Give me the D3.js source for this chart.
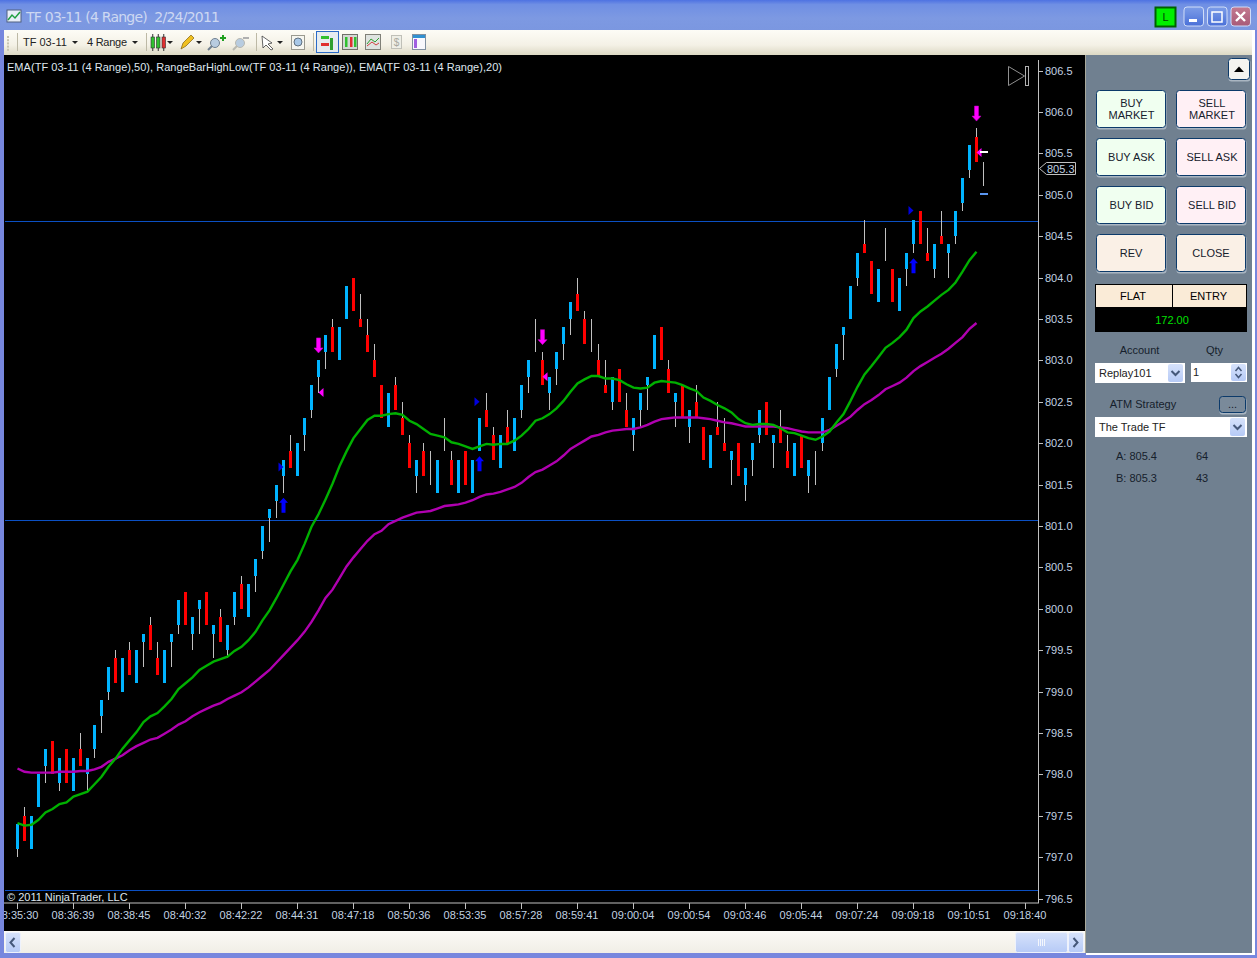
<!DOCTYPE html>
<html>
<head>
<meta charset="utf-8">
<title>TF 03-11 (4 Range)</title>
<script src="https://cdn.jsdelivr.net/npm/d3@7"></script>
<style>
  html, body { margin: 0; padding: 0; background: #fff; }
  svg { display: block; font-family: "Liberation Sans", Arial, sans-serif; }
</style>
</head>
<body>
<script>
/* globals d3 */
const priceTicks = ['796.5', '797.0', '797.5', '798.0', '798.5', '799.0', '799.5', '800.0', '800.5', '801.0', '801.5',
  '802.0', '802.5', '803.0', '803.5', '804.0', '804.5', '805.0', '805.5', '806.0', '806.5'];
const timeLabels = ['08:35:30', '08:36:39', '08:38:45', '08:40:32', '08:42:22', '08:44:31', '08:47:18', '08:50:36',
  '08:53:35', '08:57:28', '08:59:41', '09:00:04', '09:00:54', '09:03:46', '09:05:44', '09:07:24', '09:09:18',
  '09:10:51', '09:18:40'];

const opens = [797.1, 797.5, 797.1, 797.6, 798.1, 798.4, 797.9, 798.3, 797.8, 798.3,
  798.0, 798.3, 798.7, 799.0, 799.4, 799.0, 799.5, 799.1, 799.6, 799.8,
  799.4, 799.1, 799.6, 799.8, 800.2, 799.7, 800.0, 800.2, 799.7, 799.9,
  799.5, 799.9, 800.3, 799.9, 800.4, 800.7, 801.1, 801.3, 801.6, 801.9,
  801.6, 802.1, 802.4, 802.8, 803.1, 803.4, 803.0, 803.5, 804.0, 803.5,
  803.3, 803.0, 802.7, 802.2, 802.7, 802.3, 802.0, 801.6, 801.9, 801.7,
  801.4, 802.1, 801.8, 801.4, 801.9, 801.4, 801.9, 802.4, 802.1, 801.7,
  802.2, 801.9, 802.4, 802.8, 803.3, 803.0, 802.6, 802.9, 803.2, 803.5,
  803.8, 803.5, 803.3, 803.0, 802.7, 802.5, 802.9, 802.4, 802.1, 802.4,
  802.7, 802.9, 803.4, 802.9, 802.5, 802.7, 802.2, 802.5, 802.2, 801.7,
  802.2, 802.0, 801.8, 802.0, 801.5, 801.8, 802.1, 802.5, 802.0, 802.2,
  801.9, 801.6, 802.1, 801.6, 801.7, 802.0, 802.4, 802.9, 803.3, 803.5,
  804.0, 804.4, 804.2, 803.7, 804.4, 804.1, 803.6, 804.1, 804.4, 804.8,
  804.3, 804.1, 804.5, 804.3, 804.5, 804.9, 805.3, 805.7, 805.3];
const closes = [797.4, 797.2, 797.5, 798.0, 798.3, 798.0, 798.2, 797.9, 798.2, 798.1,
  798.2, 798.6, 798.9, 799.3, 799.1, 799.4, 799.2, 799.5, 799.7, 799.5,
  799.2, 799.5, 799.7, 800.1, 799.8, 799.9, 800.1, 799.8, 799.8, 799.6,
  799.8, 800.2, 800.0, 800.3, 800.6, 801.0, 801.2, 801.5, 801.8, 801.7,
  802.0, 802.3, 802.7, 803.0, 803.3, 803.1, 803.4, 803.9, 803.6, 803.4,
  803.1, 802.8, 802.3, 802.6, 802.4, 802.1, 801.7, 801.8, 801.6, 801.7,
  801.8, 802.1, 801.5, 801.8, 801.5, 801.8, 802.3, 802.2, 801.8, 802.1,
  802.0, 802.3, 802.7, 803.0, 803.3, 802.7, 802.8, 803.1, 803.4, 803.7,
  803.6, 803.2, 803.3, 802.8, 802.6, 802.8, 802.5, 802.2, 802.3, 802.6,
  802.8, 803.3, 803.0, 802.6, 802.6, 802.3, 802.4, 802.3, 801.8, 802.1,
  802.1, 801.9, 801.9, 801.6, 801.7, 802.0, 802.4, 802.1, 802.1, 802.0,
  801.7, 802.0, 801.7, 801.8, 801.7, 802.3, 802.8, 803.2, 803.4, 803.9,
  804.3, 804.3, 803.8, 804.1, 804.4, 803.7, 804.0, 804.3, 804.7, 804.4,
  804.2, 804.4, 804.4, 804.4, 804.8, 805.2, 805.6, 805.4, 805.3];
const highs = [797.4, 797.6, 797.5, 798.0, 798.3, 798.4, 798.2, 798.3, 798.2, 798.5,
  798.2, 798.6, 798.9, 799.3, 799.5, 799.4, 799.6, 799.5, 799.7, 799.9,
  799.6, 799.5, 799.7, 800.1, 800.2, 799.9, 800.1, 800.2, 799.8, 800.0,
  799.8, 800.2, 800.4, 800.3, 800.6, 801.0, 801.2, 801.5, 801.8, 802.1,
  802.0, 802.3, 802.7, 803.0, 803.3, 803.5, 803.4, 803.9, 804.0, 803.8,
  803.5, 803.2, 802.7, 802.6, 802.8, 802.5, 802.1, 801.8, 802.0, 801.9,
  801.8, 802.3, 801.9, 801.8, 801.9, 801.8, 802.3, 802.6, 802.2, 802.1,
  802.4, 802.3, 802.7, 803.0, 803.5, 803.1, 802.8, 803.1, 803.4, 803.7,
  804.0, 803.6, 803.5, 803.2, 803.0, 802.8, 802.9, 802.6, 802.3, 802.6,
  802.8, 803.3, 803.4, 803.0, 802.6, 802.7, 802.4, 802.7, 802.2, 802.1,
  802.5, 802.3, 801.9, 802.0, 801.7, 802.0, 802.4, 802.5, 802.1, 802.4,
  802.1, 802.0, 802.1, 801.8, 801.9, 802.3, 802.8, 803.2, 803.4, 803.9,
  804.3, 804.7, 804.2, 804.1, 804.6, 804.1, 804.0, 804.3, 804.7, 804.8,
  804.6, 804.4, 804.8, 804.4, 804.8, 805.2, 805.6, 805.8, 805.4];
const lows = [797.0, 797.2, 797.1, 797.6, 797.9, 798.0, 797.8, 797.9, 797.8, 798.1,
  797.8, 798.2, 798.5, 798.9, 799.1, 799.0, 799.2, 799.1, 799.3, 799.5,
  799.2, 799.1, 799.3, 799.7, 799.8, 799.5, 799.7, 799.8, 799.4, 799.6,
  799.4, 799.8, 800.0, 799.9, 800.2, 800.6, 800.8, 801.1, 801.4, 801.7,
  801.6, 801.9, 802.3, 802.6, 802.9, 803.1, 803.0, 803.5, 803.6, 803.4,
  803.1, 802.8, 802.3, 802.2, 802.4, 802.1, 801.7, 801.4, 801.6, 801.5,
  801.4, 801.9, 801.5, 801.4, 801.5, 801.4, 801.9, 802.2, 801.8, 801.7,
  802.0, 801.9, 802.3, 802.6, 803.1, 802.7, 802.4, 802.7, 803.0, 803.3,
  803.6, 803.2, 803.1, 802.8, 802.6, 802.4, 802.5, 802.2, 801.9, 802.2,
  802.4, 802.9, 803.0, 802.6, 802.2, 802.3, 802.0, 802.3, 801.8, 801.7,
  802.1, 801.9, 801.5, 801.6, 801.3, 801.6, 802.0, 802.1, 801.7, 802.0,
  801.7, 801.6, 801.7, 801.4, 801.5, 801.9, 802.4, 802.8, 803.0, 803.5,
  803.9, 804.3, 803.8, 803.7, 804.2, 803.7, 803.6, 803.9, 804.3, 804.4,
  804.2, 804.0, 804.4, 804.0, 804.4, 804.8, 805.2, 805.4, 805.1];

const ema20 = [797.41, 797.38, 797.39, 797.45, 797.54, 797.58, 797.64, 797.66, 797.73, 797.76,
  797.79, 797.88, 797.97, 798.09, 798.19, 798.31, 798.41, 798.51, 798.63, 798.70,
  798.74, 798.82, 798.91, 799.03, 799.10, 799.17, 799.26, 799.31, 799.36, 799.39,
  799.42, 799.49, 799.54, 799.62, 799.72, 799.86, 799.98, 800.13, 800.29, 800.45,
  800.59, 800.78, 800.99, 801.14, 801.32, 801.51, 801.72, 801.90, 802.06, 802.17,
  802.28, 802.33, 802.33, 802.35, 802.36, 802.34, 802.27, 802.23, 802.17, 802.11,
  802.09, 802.07, 802.01, 801.99, 801.96, 801.93, 801.96, 801.99, 801.98, 801.99,
  801.99, 802.03, 802.09, 802.17, 802.27, 802.30, 802.35, 802.42, 802.51, 802.62,
  802.72, 802.77, 802.81, 802.81, 802.78, 802.78, 802.76, 802.71, 802.67, 802.66,
  802.67, 802.73, 802.75, 802.74, 802.73, 802.70, 802.66, 802.63, 802.55, 802.51,
  802.46, 802.42, 802.37, 802.29, 802.24, 802.22, 802.23, 802.23, 802.22, 802.18,
  802.13, 802.12, 802.09, 802.06, 802.04, 802.08, 802.14, 802.25, 802.35, 802.51,
  802.68, 802.83, 802.93, 803.04, 803.15, 803.21, 803.28, 803.37, 803.51, 803.59,
  803.65, 803.72, 803.79, 803.85, 803.94, 804.07, 804.21, 804.31];
const ema50 = [798.07, 798.03, 798.02, 798.02, 798.02, 798.02, 798.03, 798.03, 798.03, 798.04,
  798.04, 798.06, 798.09, 798.15, 798.19, 798.23, 798.29, 798.34, 798.38, 798.42,
  798.44, 798.49, 798.54, 798.60, 798.64, 798.70, 798.75, 798.79, 798.83, 798.86,
  798.91, 798.95, 798.99, 799.05, 799.12, 799.19, 799.26, 799.35, 799.44, 799.53,
  799.62, 799.72, 799.84, 799.98, 800.13, 800.23, 800.37, 800.51, 800.62, 800.72,
  800.82, 800.90, 800.94, 801.02, 801.06, 801.10, 801.13, 801.16, 801.17, 801.18,
  801.21, 801.24, 801.25, 801.26, 801.28, 801.31, 801.35, 801.38, 801.39, 801.41,
  801.44, 801.47, 801.52, 801.59, 801.65, 801.68, 801.73, 801.78, 801.85, 801.93,
  801.98, 802.03, 802.08, 802.10, 802.13, 802.15, 802.16, 802.17, 802.17, 802.19,
  802.22, 802.26, 802.29, 802.30, 802.31, 802.31, 802.31, 802.31, 802.30, 802.29,
  802.27, 802.25, 802.24, 802.22, 802.20, 802.20, 802.20, 802.20, 802.20, 802.19,
  802.18, 802.16, 802.14, 802.13, 802.13, 802.13, 802.16, 802.21, 802.26, 802.32,
  802.40, 802.47, 802.52, 802.58, 802.65, 802.69, 802.73, 802.79, 802.87, 802.93,
  802.98, 803.03, 803.08, 803.14, 803.21, 803.28, 803.38, 803.45];

const priceLines = [804.68, 801.07, 796.6];

// signal markers: bar index + price
const buyArrowBars = [38, 66, 128];
const buyArrowPrices = [801.16, 801.66, 804.05];
const sellArrowBars = [43, 75, 137];
const sellArrowPrices = [803.27, 803.37, 806.07];
const buyFlagPrices = [801.71, 802.50, 804.81];
const sellFlagPrices = [802.61, 802.80, 805.51];
const rangeHighPrice = 805.5;
const rangeLowPrice = 805.0;
const lastPrice = 805.3;

const buyLabels = [['BUY', 'MARKET'], ['BUY ASK'], ['BUY BID']];
const sellLabels = [['SELL', 'MARKET'], ['SELL ASK'], ['SELL BID']];

const W = 1257;
const H = 958;
const svg = d3.select('body').append('svg').attr('width', W).attr('height', H);
const defs = svg.append('defs');

function gradient (id, stops) {
  const g = defs.append('linearGradient').attr('id', id)
    .attr('x1', 0).attr('y1', 0).attr('x2', 0).attr('y2', 1);
  stops.forEach(s => g.append('stop').attr('offset', s[0]).attr('stop-color', s[1]));
}
gradient('titleGrad', [[0, '#4e72e2'], [0.15, '#6f8fe4'], [0.6, '#7d99e2'], [1, '#7b97e0']]);
gradient('toolGrad', [[0, '#fdfcf6'], [0.6, '#f4f1e6'], [1, '#ddd9c4']]);
gradient('scrollGrad', [[0, '#fbfaf6'], [1, '#f0eee6']]);
gradient('btnBlue', [[0, '#d6e2fb'], [1, '#b6caf6']]);
gradient('winBlue', [[0, '#7d9de8'], [1, '#4a70d8']]);
gradient('winRed', [[0, '#c47a90'], [1, '#a85a78']]);

// window frame
svg.append('rect').attr('width', W).attr('height', H).attr('fill', '#7787de');
svg.append('rect').attr('width', W).attr('height', 30).attr('fill', 'url(#titleGrad)');
svg.append('rect').attr('x', 4).attr('y', 30).attr('width', W - 8).attr('height', 25).attr('fill', 'url(#toolGrad)');
svg.append('rect').attr('x', 4).attr('y', 55).attr('width', 1082).attr('height', 876).attr('fill', '#000');

// --- chart ---
const x = d3.scaleLinear().domain([0, 1]).range([17.5, 24.5]);
const y = d3.scaleLinear().domain([796.5, 806.5]).range([898.5, 70.5]);
const chart = svg.append('g');
const py = v => Math.round(y(v));

chart.selectAll('line.level').data(priceLines).join('line')
  .attr('class', 'level')
  .attr('x1', 5).attr('x2', 1038)
  .attr('y1', d => py(d) + 0.5).attr('y2', d => py(d) + 0.5)
  .attr('stroke', '#0b50c4').attr('stroke-width', 1);

const bars = chart.selectAll('g.bar').data(opens.map((o, i) => i)).join('g').attr('class', 'bar');
bars.append('rect')
  .attr('x', i => x(i) - 0.5).attr('width', 1)
  .attr('y', i => py(highs[i]))
  .attr('height', i => Math.max(1, py(lows[i]) - py(highs[i])))
  .attr('fill', '#c0c0c0');
bars.filter(i => opens[i] !== closes[i]).append('rect')
  .attr('x', i => x(i) - 1.5).attr('width', 3)
  .attr('y', i => py(Math.max(opens[i], closes[i])))
  .attr('height', i => py(Math.min(opens[i], closes[i])) - py(Math.max(opens[i], closes[i])))
  .attr('fill', i => closes[i] > opens[i] ? '#00b4ff' : '#ff0000');

const line = d3.line().x((d, i) => x(i)).y(d => y(d));
chart.append('path').attr('d', line(ema50)).attr('fill', 'none')
  .attr('stroke', '#b000b0').attr('stroke-width', 2.4);
chart.append('path').attr('d', line(ema20)).attr('fill', 'none')
  .attr('stroke', '#00b000').attr('stroke-width', 2.4);

// signal arrows
const arrowShape = 'M-2,0 L-2,-10 L-4.5,-10 L0,-15 L4.5,-10 L2,-10 L2,0 Z';
chart.selectAll('path.buy').data(buyArrowBars).join('path')
  .attr('class', 'buy').attr('d', arrowShape).attr('fill', '#0000ff')
  .attr('transform', (d, i) => `translate(${x(d)},${y(buyArrowPrices[i])})`);
chart.selectAll('path.sell').data(sellArrowBars).join('path')
  .attr('class', 'sell').attr('d', arrowShape).attr('fill', '#ff00ff').attr('stroke', '#c000c0').attr('stroke-width', 0.6)
  .attr('transform', (d, i) => `translate(${x(d)},${y(sellArrowPrices[i])}) scale(1,-1)`);
chart.selectAll('path.buyFlag').data(buyArrowBars).join('path')
  .attr('class', 'buyFlag').attr('d', 'M-5,-4.5 L0,0 L-5,4.5 Z').attr('fill', '#0000e0')
  .attr('transform', (d, i) => `translate(${x(d)},${y(buyFlagPrices[i])})`);
chart.selectAll('path.sellFlag').data(sellArrowBars).join('path')
  .attr('class', 'sellFlag').attr('d', 'M5,-4.5 L0,0 L5,4.5 Z').attr('fill', '#ff00ff')
  .attr('transform', (d, i) => `translate(${x(d)},${y(sellFlagPrices[i])})`);

// range bar projection dashes beside the last bar
const lastBar = opens.length - 1;
chart.append('rect').attr('x', x(lastBar) - 3.5).attr('width', 8).attr('y', py(rangeHighPrice) - 2).attr('height', 2).attr('fill', '#ffffff');
chart.append('rect').attr('x', x(lastBar) - 3.5).attr('width', 8).attr('y', py(rangeLowPrice) - 2).attr('height', 2).attr('fill', '#5a96f0');

// axes
const axisColor = '#c0c0c0';
const labelColor = '#c2d2e2';
const yAxis = chart.append('g').attr('transform', 'translate(1038,0)')
  .call(d3.axisRight(y).tickValues(priceTicks.map(Number)).tickFormat((d, i) => priceTicks[i]).tickSize(5).tickPadding(2));
const xAxis = chart.append('g').attr('transform', 'translate(-1,902.5)')
  .call(d3.axisBottom(d3.scaleLinear().domain([0, 18]).range([x(0), x(144)]))
    .tickValues(timeLabels.map((d, i) => i)).tickFormat((d, i) => timeLabels[i]).tickSize(6).tickPadding(3));
[yAxis, xAxis].forEach(a => {
  a.select('.domain').remove();
  a.selectAll('.tick line').attr('stroke', axisColor).attr('shape-rendering', 'crispEdges');
  a.selectAll('.tick text').attr('fill', labelColor).style('font-family', '"Liberation Sans", Arial, sans-serif').style('font-size', '11px');
});
xAxis.selectAll('.tick line').attr('transform', 'translate(0.5,0)');
chart.append('line').attr('x1', 1038.5).attr('x2', 1038.5).attr('y1', 60).attr('y2', 903).attr('stroke', axisColor);
chart.append('line').attr('x1', 4).attr('x2', 1039).attr('y1', 903).attr('y2', 903).attr('stroke', axisColor);

// last price flag
const flagY = py(lastPrice) - 2;
chart.append('path')
  .attr('d', `M1039.5,${flagY + 0.5} L1046.5,${flagY - 5.5} L1075.5,${flagY - 5.5} L1075.5,${flagY + 6.5} L1046.5,${flagY + 6.5} Z`)
  .attr('fill', '#000').attr('stroke', axisColor);
chart.append('text').attr('x', 1047).attr('y', flagY + 4.5).attr('fill', labelColor).attr('font-size', 11).text(lastPrice.toFixed(1));

// chart text
chart.append('text').attr('x', 7).attr('y', 71).attr('fill', '#dfe6ee').attr('font-size', 11)
  .attr('textLength', 495)
  .text('EMA(TF 03-11 (4 Range),50), RangeBarHighLow(TF 03-11 (4 Range)), EMA(TF 03-11 (4 Range),20)');
chart.append('text').attr('x', 7).attr('y', 901).attr('fill', '#dfe6ee').attr('font-size', 11)
  .text('\u00a9 2011 NinjaTrader, LLC');

// jump-to-end icon
chart.append('path').attr('d', 'M1008.5,66.5 L1024.5,76 L1008.5,85.5 Z').attr('fill', 'none').attr('stroke', '#909090');
chart.append('rect').attr('x', 1025.5).attr('y', 66.5).attr('width', 3).attr('height', 19).attr('fill', 'none').attr('stroke', '#b0b0b0');

// left border over the clipped first time label
svg.append('rect').attr('x', 0).attr('y', 55).attr('width', 4).attr('height', H - 55).attr('fill', '#7787de');

// --- title bar ---
const titleIcon = svg.append('g').attr('transform', 'translate(7,10)');
titleIcon.append('rect').attr('width', 14).attr('height', 12).attr('fill', '#e8eef8').attr('stroke', '#506080');
titleIcon.append('path').attr('d', 'M1,10 L5,5 L8,8 L13,2').attr('fill', 'none').attr('stroke', '#20a040').attr('stroke-width', 1.5);
svg.append('text').attr('x', 26).attr('y', 22).attr('fill', '#cdd8f2').attr('font-size', 14)
  .attr('font-family', '"DejaVu Sans"').attr('textLength', 194).attr('xml:space', 'preserve')
  .text('TF 03-11 (4 Range)  2/24/2011');

svg.append('rect').attr('x', 1155.5).attr('y', 7.5).attr('width', 20).attr('height', 19).attr('fill', '#00f000').attr('stroke', '#006000').attr('stroke-width', 2);
svg.append('text').attr('x', 1165.5).attr('y', 21).attr('text-anchor', 'middle').attr('fill', '#004000').attr('font-size', 11).text('L');
[[1184, 'winBlue'], [1207.5, 'winBlue'], [1231, 'winRed']].forEach(b => {
  svg.append('rect').attr('x', b[0]).attr('y', 7).attr('width', 19.5).attr('height', 19).attr('rx', 3).attr('fill', `url(#${b[1]})`).attr('stroke', '#cfdcf8');
});
svg.append('rect').attr('x', 1189).attr('y', 19).attr('width', 8).attr('height', 3).attr('fill', '#fff');
svg.append('rect').attr('x', 1212).attr('y', 12).attr('width', 10).attr('height', 10).attr('fill', 'none').attr('stroke', '#fff').attr('stroke-width', 1.5);
svg.append('path').attr('d', 'M1236,12 L1245,21 M1245,12 L1236,21').attr('stroke', '#fff').attr('stroke-width', 2.4);

// --- toolbar ---
const tb = svg.append('g').attr('font-size', 11).attr('fill', '#222');
d3.range(5).forEach(i => tb.append('rect').attr('x', 7).attr('y', 36 + i * 3.2).attr('width', 2).attr('height', 2).attr('fill', '#c8c4b0'));
[17, 146, 256, 313].forEach(px => tb.append('rect').attr('x', px).attr('y', 33).attr('width', 1).attr('height', 18).attr('fill', '#bdb9a6'));
tb.append('text').attr('x', 23).attr('y', 46).text('TF 03-11');
tb.append('text').attr('x', 87).attr('y', 46).attr('textLength', 40).text('4 Range');
[75, 135, 170, 199, 280].forEach(px => tb.append('path').attr('d', `M${px - 3},41 L${px + 3},41 L${px},44 Z`).attr('fill', '#222'));
// candle icon
[[151, '#30c030'], [156.5, '#30c030'], [162, '#e03030']].forEach(c => {
  tb.append('line').attr('x1', c[0] + 1.75).attr('x2', c[0] + 1.75).attr('y1', 34).attr('y2', 51).attr('stroke', '#303030');
  tb.append('rect').attr('x', c[0]).attr('y', 37).attr('width', 3.5).attr('height', 11).attr('fill', c[1]).attr('stroke', '#303030').attr('stroke-width', 0.6);
});
// pencil
tb.append('path').attr('d', 'M181,49 L183,43 L191,35 L194,38 L186,46 Z').attr('fill', '#f0c020').attr('stroke', '#806010').attr('stroke-width', 0.7);
// zoom in / out
function magnifier (cx, color, sign) {
  tb.append('circle').attr('cx', cx).attr('cy', 43).attr('r', 4.5).attr('fill', '#b8cce0').attr('stroke', color);
  tb.append('line').attr('x1', cx - 3).attr('y1', 46).attr('x2', cx - 7).attr('y2', 50).attr('stroke', color).attr('stroke-width', 2);
  tb.append('path').attr('d', sign).attr('stroke', cx < 220 ? '#20a020' : '#b0b0b0').attr('stroke-width', 2).attr('fill', 'none');
}
magnifier(215, '#708090', 'M220,38 L226,38 M223,35 L223,41');
magnifier(240, '#b8b8b0', 'M243,38 L249,38');
// pointer
tb.append('path').attr('d', 'M262,36 L272,43 L268,44 L273,49 L271,50 L266,45 L263,48 Z').attr('fill', '#fff').attr('stroke', '#404040').attr('stroke-width', 0.8);
// find box
tb.append('rect').attr('x', 291.5).attr('y', 35.5).attr('width', 13).attr('height', 14).attr('fill', '#f6f6f0').attr('stroke', '#9a9a90');
tb.append('circle').attr('cx', 298).attr('cy', 42).attr('r', 4).attr('fill', '#a8c8e8').attr('stroke', '#607080');
// toggled buttons
tb.append('rect').attr('x', 316.5).attr('y', 31.5).attr('width', 22).attr('height', 21).attr('fill', '#e6ecf0').attr('stroke', '#2a6ac8');
[[321, 36, 8, 3, '#30c030'], [321, 43, 8, 3, '#e03030'], [330, 38, 3, 12, '#30a030']].forEach(r => {
  tb.append('rect').attr('x', r[0]).attr('y', r[1]).attr('width', r[2]).attr('height', r[3]).attr('fill', r[4]);
});
tb.append('rect').attr('x', 342.5).attr('y', 34.5).attr('width', 15).attr('height', 15).attr('fill', '#d4d8d4').attr('stroke', '#707068');
[[345, '#30c030'], [350, '#e03030'], [354, '#30c030']].forEach(c => {
  tb.append('rect').attr('x', c[0]).attr('y', 37).attr('width', 2.5).attr('height', 10).attr('fill', c[1]);
});
tb.append('rect').attr('x', 365.5).attr('y', 34.5).attr('width', 15).attr('height', 15).attr('fill', '#dfe3e0').attr('stroke', '#808078');
tb.append('path').attr('d', 'M367,44 L371,39 L375,42 L379,38').attr('fill', 'none').attr('stroke', '#30a030');
tb.append('path').attr('d', 'M367,46 L372,42 L376,45 L379,43').attr('fill', 'none').attr('stroke', '#d04040');
tb.append('rect').attr('x', 391.5).attr('y', 35.5).attr('width', 10).attr('height', 13).attr('fill', '#eeeee6').attr('stroke', '#c0c0b8');
tb.append('text').attr('x', 396.5).attr('y', 46).attr('text-anchor', 'middle').attr('fill', '#a8a8a0').attr('font-size', 10).text('$');
tb.append('rect').attr('x', 412.5).attr('y', 34.5).attr('width', 13).attr('height', 15).attr('fill', '#f8f8fc').attr('stroke', '#8090a0');
tb.append('rect').attr('x', 413).attr('y', 35).attr('width', 12).attr('height', 3).attr('fill', '#3090d0');
tb.append('rect').attr('x', 414).attr('y', 39).attr('width', 3).attr('height', 9).attr('fill', '#a060e0');

// --- order panel ---
const panel = svg.append('g').attr('font-size', 11).attr('fill', '#16202c');
panel.append('rect').attr('x', 1086).attr('y', 55).attr('width', 166).attr('height', 898).attr('fill', '#708090');
panel.append('rect').attr('x', 1085).attr('y', 55).attr('width', 1).attr('height', 898).attr('fill', '#a8a89a');
panel.append('rect').attr('x', 1252).attr('y', 30).attr('width', 3).attr('height', 925).attr('fill', '#ffffff');
panel.append('rect').attr('x', 1086).attr('y', 953).attr('width', 169).attr('height', 2).attr('fill', '#ffffff');

function panelButton (bx, by, bw, bh, fill) {
  panel.append('rect').attr('x', bx + 0.5).attr('y', by + 1.5).attr('width', bw).attr('height', bh).attr('rx', 3).attr('fill', '#aab6c2');
  panel.append('rect').attr('x', bx + 0.5).attr('y', by + 0.5).attr('width', bw - 1).attr('height', bh - 1).attr('rx', 3).attr('fill', fill).attr('stroke', '#0c3a6a');
}
function buttonText (cx, by, bh, lines) {
  lines.forEach((t, i) => {
    panel.append('text').attr('x', cx).attr('text-anchor', 'middle')
      .attr('y', by + bh / 2 + 4 + (i - (lines.length - 1) / 2) * 12).text(t);
  });
}
panelButton(1228, 58, 22, 22, '#f4f4f0');
panel.append('path').attr('d', 'M1234,72 L1244,72 L1239,66.5 Z').attr('fill', '#000');
[0, 1, 2].forEach(i => {
  const by = 90 + i * 48;
  panelButton(1096, by, 70, 38, '#f0fff0');
  buttonText(1131.5, by, 38, buyLabels[i]);
  panelButton(1176, by, 70, 38, '#fff0f5');
  buttonText(1212, by, 38, sellLabels[i]);
});
panelButton(1096, 234, 70, 38, '#faf0e6');
buttonText(1131, 234, 38, ['REV']);
panelButton(1176, 234, 70, 38, '#faf0e6');
buttonText(1211, 234, 38, ['CLOSE']);

panel.append('rect').attr('x', 1095).attr('y', 284).attr('width', 152).attr('height', 48).attr('fill', '#000');
panel.append('rect').attr('x', 1096).attr('y', 285).attr('width', 76).attr('height', 22).attr('fill', '#faebd7');
panel.append('rect').attr('x', 1173).attr('y', 285).attr('width', 73).attr('height', 22).attr('fill', '#faebd7');
panel.append('text').attr('x', 1133).attr('y', 300).attr('text-anchor', 'middle').attr('fill', '#000').text('FLAT');
panel.append('text').attr('x', 1208.5).attr('y', 300).attr('text-anchor', 'middle').attr('fill', '#000').text('ENTRY');
panel.append('text').attr('x', 1172).attr('y', 324).attr('text-anchor', 'middle').attr('fill', '#00e000').text('172.00');

panel.append('text').attr('x', 1139.5).attr('y', 354).attr('text-anchor', 'middle').text('Account');
panel.append('text').attr('x', 1214.5).attr('y', 354).attr('text-anchor', 'middle').text('Qty');
panel.append('text').attr('x', 1143).attr('y', 408).attr('text-anchor', 'middle').text('ATM Strategy');

function field (fx, fy, fw, fh, label, textX) {
  panel.append('rect').attr('x', fx).attr('y', fy).attr('width', fw).attr('height', fh).attr('fill', '#fff');
  panel.append('text').attr('x', textX).attr('y', fy + fh / 2 + (label === '1' ? 3 : 4)).attr('fill', '#222').attr('font-size', 11).text(label);
}
function dropButton (bx, by, bh) {
  panel.append('rect').attr('x', bx).attr('y', by).attr('width', 15).attr('height', bh).attr('rx', 2).attr('fill', 'url(#btnBlue)');
  panel.append('path').attr('d', `M${bx + 3.5},${by + bh / 2 - 2} L${bx + 7.5},${by + bh / 2 + 2} L${bx + 11.5},${by + bh / 2 - 2}`)
    .attr('fill', 'none').attr('stroke', '#45587a').attr('stroke-width', 2);
}
field(1095, 363, 90, 20, 'Replay101', 1099);
dropButton(1168, 364, 18);
field(1191, 363, 56, 19, '1', 1193);
panel.append('rect').attr('x', 1231).attr('y', 364).attr('width', 15).attr('height', 17).attr('rx', 2).attr('fill', 'url(#btnBlue)');
panel.append('path').attr('d', 'M1235.5,371 L1238.5,367.5 L1241.5,371 M1235.5,374 L1238.5,377.5 L1241.5,374')
  .attr('fill', 'none').attr('stroke', '#45587a').attr('stroke-width', 1.5);
field(1095, 417, 152, 20, 'The Trade TF', 1099);
dropButton(1230, 418, 18);
panelButton(1219, 396, 27, 17, '#7a8a9a');
panel.append('text').attr('x', 1232.5).attr('y', 408).attr('text-anchor', 'middle').text('...');

panel.append('text').attr('x', 1116).attr('y', 460).text('A: 805.4');
panel.append('text').attr('x', 1196).attr('y', 460).text('64');
panel.append('text').attr('x', 1116).attr('y', 482).text('B: 805.3');
panel.append('text').attr('x', 1196).attr('y', 482).text('43');

// --- scroll bar ---
svg.append('rect').attr('x', 4).attr('y', 931).attr('width', 1081).attr('height', 22).attr('fill', 'url(#scrollGrad)');
function scrollButton (bx, bw) {
  svg.append('rect').attr('x', bx + 0.5).attr('y', 932.5).attr('width', bw).attr('height', 20).attr('rx', 2)
    .attr('fill', 'url(#btnBlue)').attr('stroke', '#eef2fc');
}
scrollButton(5, 15);
scrollButton(1015, 52);
scrollButton(1068, 15);
svg.append('path').attr('d', 'M14.5,938 L10.5,942.5 L14.5,947').attr('fill', 'none').attr('stroke', '#45587a').attr('stroke-width', 2);
svg.append('path').attr('d', 'M1073.5,938 L1077.5,942.5 L1073.5,947').attr('fill', 'none').attr('stroke', '#45587a').attr('stroke-width', 2);
d3.range(4).forEach(i => svg.append('rect').attr('x', 1038 + i * 2).attr('y', 939).attr('width', 1).attr('height', 7).attr('fill', '#f4f6fc'));
</script>
</body>
</html>
